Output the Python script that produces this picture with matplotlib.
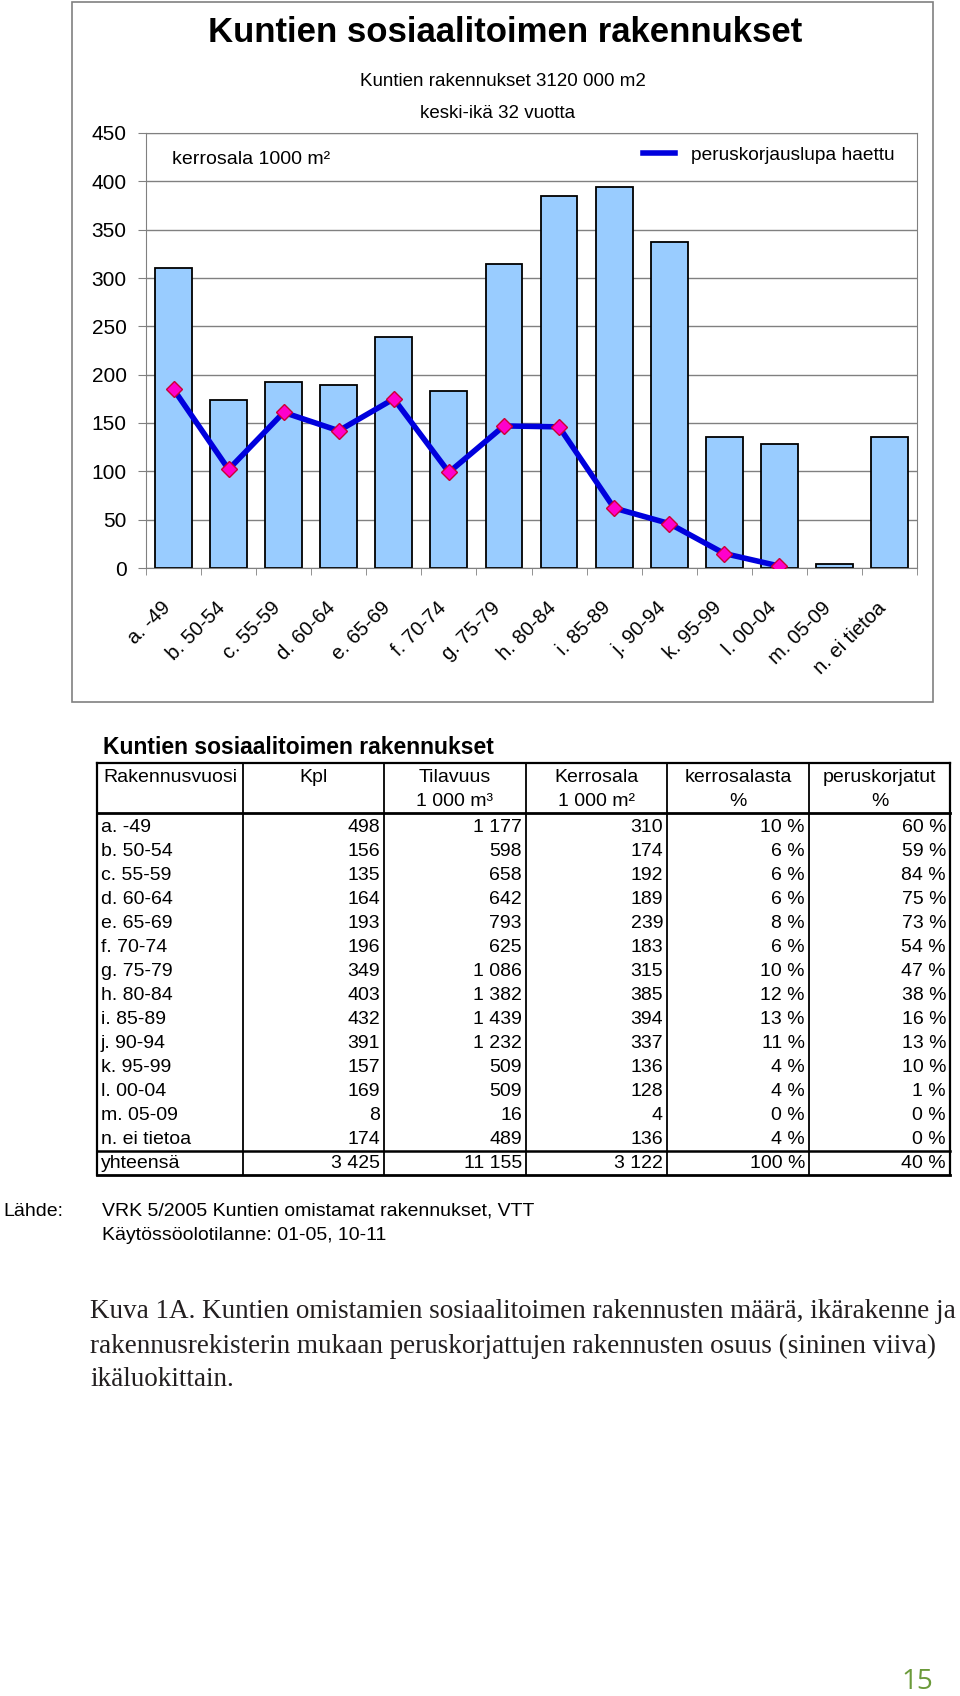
import matplotlib
matplotlib.use("Agg")
import matplotlib.pyplot as plt
import numpy as np
from matplotlib.lines import Line2D
from matplotlib.patches import Rectangle
from matplotlib.transforms import blended_transform_factory

plt.rcParams['font.family'] = ['Liberation Sans', 'DejaVu Sans']

# --- data -------------------------------------------------------------
categories = ['a. -49', 'b. 50-54', 'c. 55-59', 'd. 60-64', 'e. 65-69',
              'f. 70-74', 'g. 75-79', 'h. 80-84', 'i. 85-89', 'j. 90-94',
              'k. 95-99', 'l. 00-04', 'm. 05-09', 'n. ei tietoa']
kpl = [498, 156, 135, 164, 193, 196, 349, 403, 432, 391, 157, 169, 8, 174]
tilavuus = [1177, 598, 658, 642, 793, 625, 1086, 1382, 1439, 1232, 509, 509, 16, 489]
kerrosala = [310, 174, 192, 189, 239, 183, 315, 385, 394, 337, 136, 128, 4, 136]
kerrosala_pct = [10, 6, 6, 6, 8, 6, 10, 12, 13, 11, 4, 4, 0, 4]
perus_pct = [60, 59, 84, 75, 73, 54, 47, 38, 16, 13, 10, 1, 0, 0]
totals = ['yhteensä', 3425, 11155, 3122, 100, 40]

# peruskorjauslupa haettu, 1000 m2
haettu = [185, 102, 161, 142, 175, 99, 147, 146, 62, 46, 15, 2]

header1 = ['Rakennusvuosi', 'Kpl', 'Tilavuus', 'Kerrosala', 'kerrosalasta', 'peruskorjatut']
header2 = ['', '', '1 000 m³', '1 000 m²', '%', '%']

caption = ['Kuva 1A. Kuntien omistamien sosiaalitoimen rakennusten määrä, ikärakenne ja',
           'rakennusrekisterin mukaan peruskorjattujen rakennusten osuus (sininen viiva)',
           'ikäluokittain.']

W, H = 960, 1696


def num(v):
  return f'{v:,}'.replace(',', ' ')


def main():
  fig = plt.figure(figsize=(W / 100, H / 100), dpi=100)

  # page layer in pixel coordinates
  page = fig.add_axes([0, 0, 1, 1], zorder=0)
  page.set_xlim(0, W)
  page.set_ylim(H, 0)
  page.axis('off')

  # chart frame and titles
  page.add_patch(Rectangle((72, 2), 861, 700, fill=False, ec='#808080', lw=1.2))
  page.text(505, 33, 'Kuntien sosiaalitoimen rakennukset', size=25, weight='bold',
            ha='center', va='center')
  page.text(503, 82, 'Kuntien rakennukset 3120 000 m2', size=13.5, ha='center', va='center')
  page.text(498, 113, 'keski-ikä 32 vuotta', size=13.5, ha='center', va='center')

  # chart
  ax = fig.add_axes([146 / W, 1 - 568 / H, 771 / W, 435 / H], zorder=1)
  ax.set_facecolor('none')
  x = np.arange(len(categories))
  ax.bar(x, kerrosala, width=0.67, color='#99CCFF', edgecolor='black', linewidth=1.3, zorder=2)
  ax.plot(x[:len(haettu)], haettu, color='#0000DD', lw=4, marker='D', ms=8.5,
          mfc='#FF00CC', mec='#CC0033', mew=1, zorder=3)

  ax.set_xlim(-0.5, len(categories) - 0.5)
  ax.set_ylim(0, 450)
  ax.set_yticks(np.arange(0, 451, 50))
  ax.yaxis.grid(True, color='#808080', lw=1)
  ax.set_axisbelow(True)
  ax.tick_params(axis='y', labelsize=15, length=6, color='#808080', pad=8)
  ax.set_xticks([])
  ax.set_xticks(np.arange(-0.5, len(categories), 1), minor=True)
  ax.tick_params(axis='x', which='minor', length=5, color='#808080')
  for s in ax.spines.values():
    s.set_color('#808080')

  trans = blended_transform_factory(ax.transData, ax.transAxes)
  for i, c in enumerate(categories):
    ax.text(i - 0.11, -0.085, c, transform=trans, size=14.5, rotation=45,
            ha='right', va='center', rotation_mode='anchor')

  ax.text(172, 160, 'kerrosala 1000 m²', transform=page.transData, size=14, va='center')
  handle = Line2D([], [], color='#0000DD', lw=4)
  ax.legend([handle], ['peruskorjauslupa haettu'], loc='center left', frameon=False,
            bbox_to_anchor=(643 / W, 1 - 155 / H), bbox_transform=fig.transFigure,
            borderpad=0, borderaxespad=0, handlelength=1.65, handletextpad=0.85,
            fontsize=13.8)

  # table
  fs = 14
  page.text(103, 748, 'Kuntien sosiaalitoimen rakennukset', size=16.5, weight='bold', va='center')
  cols = [97, 243, 384, 526, 667, 809, 950]
  top, head_bot, tot_top, bot = 763, 813, 1151, 1175
  page.plot([cols[0], cols[-1]], [top, top], color='black', lw=1.6)
  page.plot([cols[0], cols[-1]], [head_bot, head_bot], color='black', lw=2)
  page.plot([cols[0], cols[-1]], [tot_top, tot_top], color='black', lw=1.8)
  page.plot([cols[0], cols[-1]], [bot, bot], color='black', lw=2)
  for cx in cols:
    page.plot([cx, cx], [top, bot], color='black', lw=1.6 if cx in (cols[0], cols[-1]) else 1.3)

  for j in range(6):
    mid = (cols[j] + cols[j + 1]) / 2
    page.text(mid, 777, header1[j], size=fs, ha='center', va='center')
    page.text(mid, 802, header2[j], size=fs, ha='center', va='center')

  for i, c in enumerate(categories):
    y = 827 + 24 * i
    row = [num(kpl[i]), num(tilavuus[i]), num(kerrosala[i]),
           f'{kerrosala_pct[i]} %', f'{perus_pct[i]} %']
    page.text(101, y, c, size=fs, va='center')
    for j, v in enumerate(row):
      page.text(cols[j + 2] - 4, y, v, size=fs, ha='right', va='center')

  y = 1163
  page.text(101, y, totals[0], size=fs, va='center')
  trow = [num(totals[1]), num(totals[2]), num(totals[3]), f'{totals[4]} %', f'{totals[5]} %']
  for j, v in enumerate(trow):
    page.text(cols[j + 2] - 4, y, v, size=fs, ha='right', va='center')

  # source
  page.text(3, 1211, 'Lähde:', size=fs, va='center')
  page.text(102, 1211, 'VRK 5/2005 Kuntien omistamat rakennukset, VTT', size=fs, va='center')
  page.text(102, 1236, 'Käytössöolotilanne: 01-05, 10-11', size=fs, va='center')

  # caption
  for k, line in enumerate(caption):
    page.text(90, 1312 + 34 * k, line, size=19.5, family='Liberation Serif',
              color='#231F20', va='center')

  page.text(933, 1682, '15', size=20, family='Open Sans', color='#6B9A3A',
            ha='right', va='center')

  fig.savefig('out.png', dpi=100)


if __name__ == "__main__":
  main()
